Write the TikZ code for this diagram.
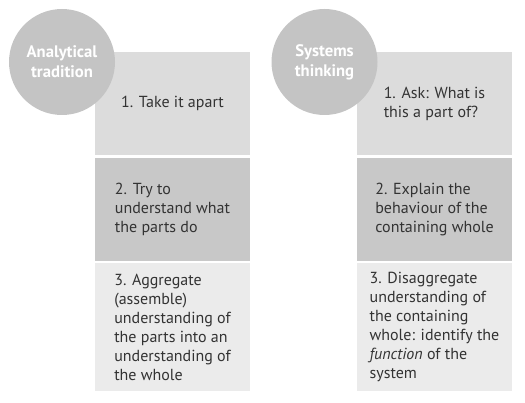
\documentclass[tikz,border=0pt]{standalone}
\usepackage{fontspec}
\setmainfont{PT Sans}
\usepackage{tikz}
\usetikzlibrary{positioning}
\definecolor{circlegray}{HTML}{C4C4C4}
\definecolor{firstgray}{HTML}{DCDCDC}
\definecolor{secondgray}{HTML}{C8C8C8}
\definecolor{thirdgray}{HTML}{EBEBEB}
\definecolor{textgray}{HTML}{333333}

\begin{document}
\begin{tikzpicture}[x=0.75pt, y=-0.75pt,
    stage/.style={inner sep=0pt, outer sep=0pt, minimum width=116.25pt,
      minimum height=77.25pt, align=left, text=textgray,
      font=\fontsize{12}{14.25}\selectfont},
    heading/.style={circle, fill=circlegray, inner sep=0pt, minimum size=79.5pt,
      align=center, text=white, font=\bfseries\fontsize{12.5}{15}\selectfont}]
    \useasboundingbox (0,0) rectangle (525,403);
    % Analytical tradition
    \node[stage, fill=firstgray] (take) at (172.5,103.5) {1. Take it apart};
    \node[stage, fill=secondgray, below=1.9pt of take] (try)
      {2. Try to\\understand what\\the parts do};
    \node[stage, fill=thirdgray, minimum height=96pt, below=1.9pt of try] (aggregate)
      {3. Aggregate\\(assemble)\\understanding of\\the parts into an\\understanding of\\the whole};
    \node[heading] (analytical) at (62,62) {Analytical\\tradition};

    % Systems thinking
    \node[stage, fill=firstgray] (ask) at (434.5,103.5) {1. Ask: What is\\this a part of?};
    \node[stage, fill=secondgray, below=1.9pt of ask] (explain)
      {2. Explain the\\behaviour of the\\containing whole};
    \node[stage, fill=thirdgray, minimum height=96pt, below=1.9pt of explain] (disaggregate)
      {3. Disaggregate\\understanding of\\the containing\\whole: identify the\\\textit{function} of the\\system};
    \node[heading] (systems) at (324.5,62) {Systems\\thinking};
  \end{tikzpicture}
\end{document}
